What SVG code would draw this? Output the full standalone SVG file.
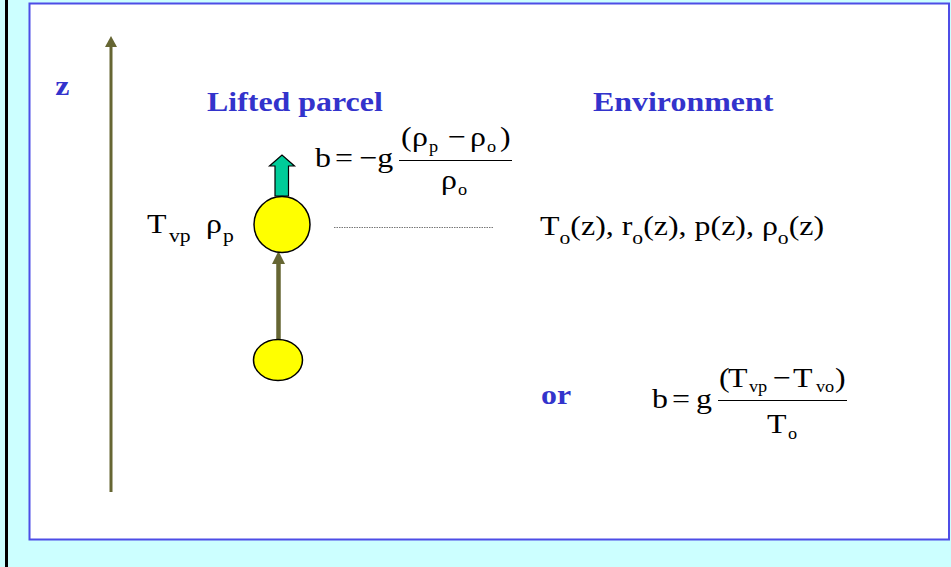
<svg xmlns="http://www.w3.org/2000/svg" width="951" height="567" viewBox="0 0 951 567">
<style>
.lbl{font-family:"Liberation Serif","Times New Roman",serif;font-weight:bold;fill:#3333CC;font-size:28px}
.eq{font-family:"Liberation Serif","Times New Roman",serif;fill:#000;font-size:28px}
.sub{font-size:19px}
.sub2{font-size:16px}
.ball{fill:#FFFF00;stroke:#000;stroke-width:1.5}
</style>
<rect x="0" y="0" width="951" height="567" fill="#CCFFFF"/>
<rect x="5" y="0" width="3" height="567" fill="#000"/>
<rect x="29.5" y="3.5" width="919.5" height="536" fill="#fff" stroke="#4D4DE6" stroke-width="2"/>

<g id="connectors">
<line x1="111" y1="492" x2="111" y2="46" stroke="#666633" stroke-width="3"/>
<path d="M105,47L111,36L117,47z" fill="#666633"/>
<line x1="278.5" y1="340" x2="278.5" y2="262" stroke="#666633" stroke-width="4.5"/>
<path d="M272,264L278.5,251L285,264z" fill="#666633"/>
<line x1="334" y1="227.5" x2="493" y2="227.5" stroke="#777" stroke-width="1" stroke-dasharray="1.5,1"/>
</g>

<g transform="scale(1.14,1)">
<g id="axis-label"><text class="lbl" x="48.5" y="95">z</text></g>
<g id="lifted-parcel-title"><text class="lbl" x="181.6" y="111">Lifted parcel</text></g>
<g id="environment-title"><text class="lbl" x="520.2" y="111">Environment</text></g>
<g id="or-label"><text class="lbl" x="474.6" y="404">or</text></g>

<g id="parcel-props">
<text class="eq" y="233"><tspan x="128.9">T</tspan><tspan class="sub" x="148.2" dy="9">vp</tspan><tspan x="180.7" dy="-9">ρ</tspan><tspan class="sub" x="195.6" dy="9">p</tspan></text>
</g>

<g id="eq1">
<text class="eq" y="167"><tspan x="276.3">b</tspan><tspan x="293.9">=</tspan><tspan x="315.4">−</tspan><tspan x="331">g</tspan></text>
<text class="eq" y="146"><tspan x="351.8">(</tspan><tspan x="361.4">ρ</tspan><tspan class="sub2" x="376.3" dy="6">p</tspan><tspan x="393" dy="-6">−</tspan><tspan x="412.3">ρ</tspan><tspan class="sub2" x="427.2" dy="6">o</tspan><tspan x="438.6" dy="-6">)</tspan></text>
<text class="eq" y="189"><tspan x="386.8">ρ</tspan><tspan class="sub2" x="401.8" dy="6">o</tspan></text>
</g>

<g id="environment-vars">
<text class="eq" x="473.7" y="235">T<tspan class="sub" dy="9">o</tspan><tspan dy="-9">(z), r</tspan><tspan class="sub" dy="9">o</tspan><tspan dy="-9">(z), p(z), ρ</tspan><tspan class="sub" dy="9">o</tspan><tspan dy="-9">(z)</tspan></text>
</g>

<g id="eq2">
<text class="eq" y="408"><tspan x="571.9">b</tspan><tspan x="589.5">=</tspan><tspan x="610.5">g</tspan></text>
<text class="eq" y="387"><tspan x="630.7">(</tspan><tspan x="638.6">T</tspan><tspan class="sub2" x="657" dy="5">vp</tspan><tspan x="678.1" dy="-5">−</tspan><tspan x="695.6">T</tspan><tspan class="sub2" x="715.8" dy="5">vo</tspan><tspan x="732.5" dy="-5">)</tspan></text>
<text class="eq" y="433"><tspan x="672.8">T</tspan><tspan class="sub2" x="691.2" dy="6">o</tspan></text>
</g>
</g>

<g id="fraction-bars">
<line x1="399" y1="160.5" x2="512" y2="160.5" stroke="#000" stroke-width="1.2"/>
<line x1="718" y1="400.5" x2="847" y2="400.5" stroke="#000" stroke-width="1.2"/>
</g>

<g id="buoyancy-arrow">
<path d="M275,196L275,166L269.5,166L282,155L294.5,166L288.5,166L288.5,196z" fill="#00CC99" stroke="#000" stroke-width="1.2"/>
</g>
<g id="parcel-upper"><ellipse class="ball" cx="282" cy="224.5" rx="28" ry="28"/></g>
<g id="parcel-lower"><ellipse class="ball" cx="278" cy="360" rx="24.5" ry="20.5"/></g>
</svg>
